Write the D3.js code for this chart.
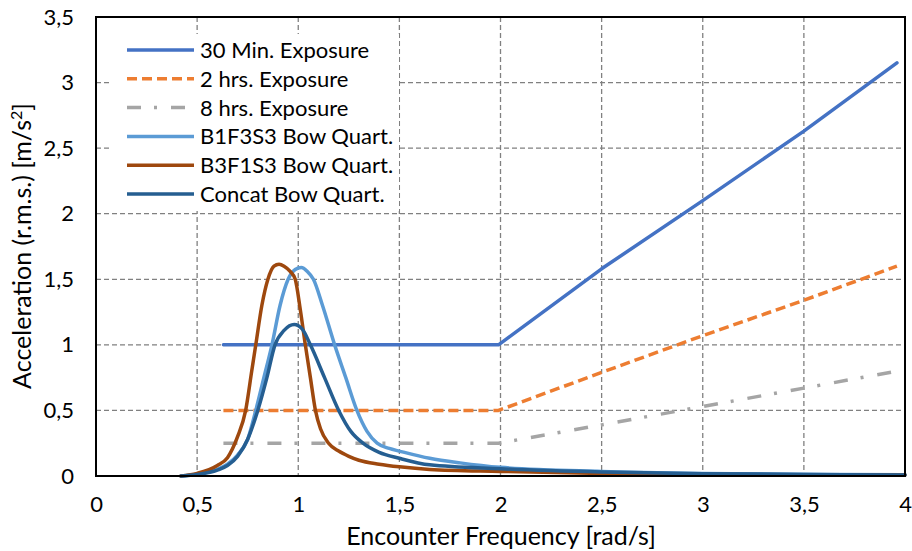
<!DOCTYPE html>
<html>
<head>
<meta charset="utf-8">
<script src="https://cdn.jsdelivr.net/npm/d3@7"></script>
<style>
  body { margin: 0; background: #fff; }
  svg { font-family: Lato, "Open Sans", sans-serif; }
</style>
</head>
<body>
<svg id="chart" width="912" height="551"></svg>
<script>
// limit curves (ISO style exposure limits)
const limitX = [0.63, 1.99, 2.5, 3, 3.5, 3.96];
const min30 = [1, 1, 1.58, 2.1, 2.63, 3.15];
const hrs2 = [0.5, 0.5, 0.79, 1.07, 1.34, 1.6];
const hrs8 = [0.25, 0.25, 0.39, 0.53, 0.67, 0.8];

// response curves
const b1X = [0.42, 0.5, 0.6, 0.65, 0.7, 0.75, 0.79, 0.83, 0.87, 0.91, 0.95, 0.985, 1.015, 1.045, 1.075, 1.12, 1.18, 1.235, 1.29, 1.34, 1.39, 1.45, 1.5, 1.65, 1.8, 2, 2.5, 3, 3.5, 4];
const b1Y = [0, 0.015, 0.05, 0.09, 0.16, 0.28, 0.5, 0.75, 1.0, 1.3, 1.5, 1.575, 1.59, 1.56, 1.5, 1.3, 1.0, 0.75, 0.5, 0.34, 0.25, 0.21, 0.19, 0.135, 0.1, 0.066, 0.035, 0.02, 0.013, 0.01];

const b3X = [0.42, 0.5, 0.6, 0.65, 0.7, 0.74, 0.77, 0.79, 0.82, 0.85, 0.88, 0.905, 0.93, 0.96, 0.985, 1.01, 1.035, 1.06, 1.085, 1.11, 1.15, 1.2, 1.25, 1.3, 1.4, 1.5, 1.65, 2, 2.5, 3, 3.5, 4];
const b3Y = [0, 0.02, 0.08, 0.14, 0.3, 0.5, 0.8, 1.0, 1.3, 1.5, 1.6, 1.615, 1.6, 1.56, 1.5, 1.27, 1.0, 0.75, 0.5, 0.36, 0.25, 0.19, 0.15, 0.12, 0.09, 0.07, 0.05, 0.035, 0.02, 0.012, 0.009, 0.007];

const catX = [0.42, 0.5, 0.6, 0.65, 0.7, 0.75, 0.8, 0.845, 0.885, 0.93, 0.98, 1.02, 1.06, 1.13, 1.2, 1.26, 1.32, 1.4, 1.5, 1.65, 2, 2.5, 3, 3.5, 4];
const catY = [0, 0.012, 0.045, 0.08, 0.15, 0.28, 0.5, 0.75, 1.0, 1.11, 1.155, 1.12, 1.0, 0.75, 0.5, 0.34, 0.25, 0.18, 0.135, 0.085, 0.055, 0.03, 0.018, 0.012, 0.008];

const xTicks = [0, 0.5, 1, 1.5, 2, 2.5, 3, 3.5, 4];
const yTicks = [0, 0.5, 1, 1.5, 2, 2.5, 3, 3.5];

const series = [
  { name: "30 Min. Exposure", xs: limitX, ys: min30, color: "#4472C4", dash: null, smooth: false },
  { name: "2 hrs. Exposure", xs: limitX, ys: hrs2, color: "#ED7D31", dash: "10,5", smooth: false },
  { name: "8 hrs. Exposure", xs: limitX, ys: hrs8, color: "#A5A5A5", dash: "14,13,3,14", smooth: false },
  { name: "B1F3S3 Bow Quart.", xs: b1X, ys: b1Y, color: "#5B9BD5", dash: null, smooth: true },
  { name: "B3F1S3 Bow Quart.", xs: b3X, ys: b3Y, color: "#9E480E", dash: null, smooth: true },
  { name: "Concat Bow Quart.", xs: catX, ys: catY, color: "#255E91", dash: null, smooth: true }
];

const fmt = d => String(d).replace(".", ",");

const svg = d3.select("#chart");
const x = d3.scaleLinear().domain([0, 4]).range([96, 905]);
const y = d3.scaleLinear().domain([0, 3.5]).range([476, 17]);

// grid
svg.append("g").selectAll("line")
  .data(xTicks.slice(1, -1))
  .enter().append("line")
  .attr("x1", d => x(d)).attr("x2", d => x(d))
  .attr("y1", y(3.5)).attr("y2", y(0))
  .attr("stroke", "#808080").attr("stroke-width", 1.3)
  .attr("stroke-dasharray", "5,3");

svg.append("g").selectAll("line")
  .data(yTicks.slice(1, -1))
  .enter().append("line")
  .attr("x1", x(0)).attr("x2", x(4))
  .attr("y1", d => y(d)).attr("y2", d => y(d))
  .attr("stroke", "#808080").attr("stroke-width", 1.3)
  .attr("stroke-dasharray", "5,3");

// tick labels
const xAxis = svg.append("g")
  .attr("transform", `translate(0,${y(0)})`)
  .call(d3.axisBottom(x).tickValues(xTicks).tickFormat(fmt).tickSize(0).tickPadding(20));
const yAxis = svg.append("g")
  .attr("transform", `translate(${x(0)},0)`)
  .call(d3.axisLeft(y).tickValues(yTicks).tickFormat(fmt).tickSize(0).tickPadding(22));
[xAxis, yAxis].forEach(a => {
  a.select(".domain").remove();
  a.selectAll("text").attr("font-size", 22).attr("fill", "#000")
    .attr("font-family", "Lato, 'Open Sans', sans-serif");
});

// curves
const smoothLine = d3.line().x(d => x(d[0])).y(d => y(d[1])).curve(d3.curveMonotoneX);
const straightLine = d3.line().x(d => x(d[0])).y(d => y(d[1]));
const plot = svg.append("g");
series.forEach(s => {
  const pts = s.xs.map((v, i) => [v, s.ys[i]]);
  plot.append("path")
    .attr("d", s.smooth ? smoothLine(pts) : straightLine(pts))
    .attr("fill", "none")
    .attr("stroke", s.color)
    .attr("stroke-width", 3.5)
    .attr("stroke-linejoin", "round")
    .attr("stroke-linecap", s.dash ? "butt" : "round")
    .attr("stroke-dasharray", s.dash);
});

// frame
svg.append("rect")
  .attr("x", x(0)).attr("y", y(3.5))
  .attr("width", x(4) - x(0)).attr("height", y(0) - y(3.5))
  .attr("fill", "none").attr("stroke", "#000").attr("stroke-width", 2);

// legend
const leg = svg.append("g");
leg.append("rect")
  .attr("x", 112).attr("y", 34).attr("width", 287).attr("height", 177)
  .attr("fill", "#fff");
series.forEach((s, i) => {
  const ly = 50 + i * 28.8;
  leg.append("line")
    .attr("x1", 127).attr("x2", 194)
    .attr("y1", ly).attr("y2", ly)
    .attr("stroke", s.color).attr("stroke-width", 3.5)
    .attr("stroke-dasharray", s.dash);
  leg.append("text")
    .attr("x", 200).attr("y", ly)
    .attr("dy", "0.36em")
    .attr("font-size", 22)
    .text(s.name);
});

// axis titles
svg.append("text")
  .attr("x", 501).attr("y", 545)
  .attr("text-anchor", "middle")
  .attr("font-size", 25)
  .text("Encounter Frequency [rad/s]");

const yt = svg.append("text")
  .attr("transform", "translate(31,246) rotate(-90)")
  .attr("text-anchor", "middle")
  .attr("font-size", 25);
yt.append("tspan").text("Acceleration (r.m.s.) [m/s");
yt.append("tspan").attr("font-size", 16).attr("dy", -9).text("2");
yt.append("tspan").attr("dy", 9).text("]");
</script>
</body>
</html>
